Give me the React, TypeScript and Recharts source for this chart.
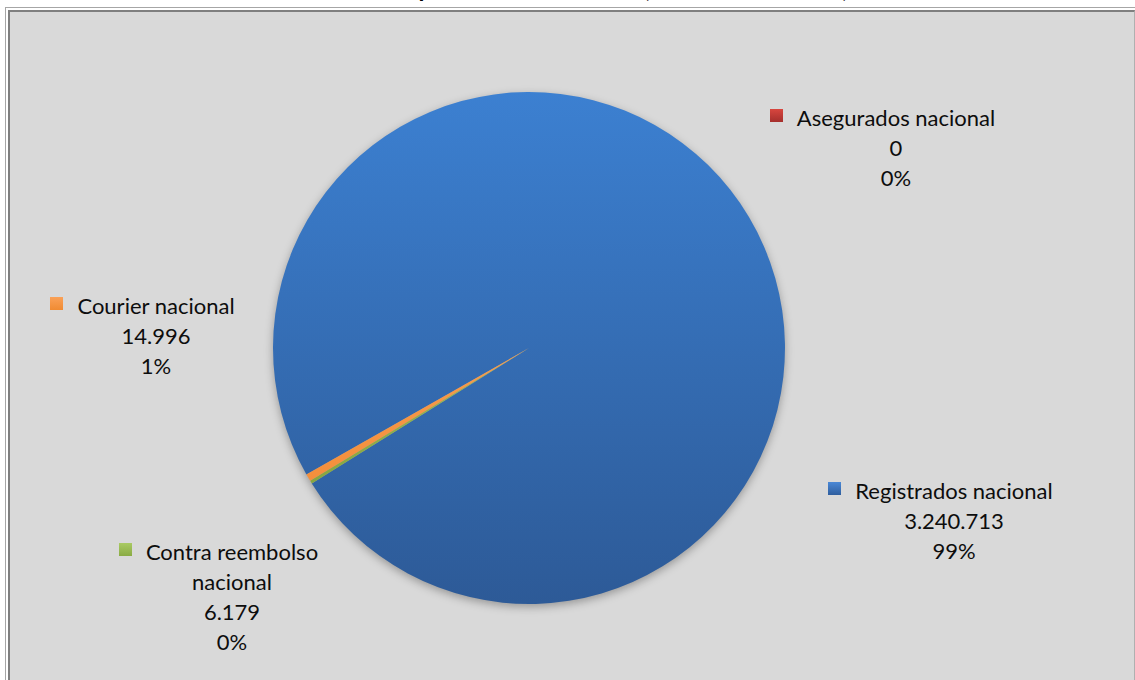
import { PieChart, Pie, Cell } from 'recharts'

const categories = ['Registrados nacional', 'Asegurados nacional', 'Contra reembolso nacional', 'Courier nacional']
const values = [3240713, 0, 6179, 14996]
const percentLabels = ['99%', '0%', '0%', '1%']
const valueLabels = ['3.240.713', '0', '6.179', '14.996']

const TITLE = 'Tráfico por servicio nacional (Enero - Diciembre)'

const sliceFills = ['url(#gBlue)', '#c0504d', 'url(#gGreen)', 'url(#gOrange)']
const markerFills = [
    'linear-gradient(#4a88d6, #2f5e9e)',
    'linear-gradient(#d8463f, #a52f2c)',
    'linear-gradient(#a9ca63, #8aab44)',
    'linear-gradient(#faa158, #f08b32)',
]

// label blocks are placed by hand in the source chart
const labelLayout = [
    { cx: 954, top: 476, lines: 1 },
    { cx: 896, top: 103, lines: 1 },
    { cx: 232, top: 537, lines: 2 },
    { cx: 156, top: 291, lines: 1 },
]

const data = categories.map((name, i) => ({ name, value: values[i] }))

const FONT = 'Lato, "Open Sans", sans-serif'

function splitName(name: string, lines: number) {
    if (lines === 1) return [name]
    const cut = name.lastIndexOf(' ')
    return [name.slice(0, cut), name.slice(cut + 1)]
}

export default function App() {
    return (
        <div style={{ position: 'fixed', left: 0, top: 0, width: 1135, height: 680, background: '#fff', overflow: 'hidden' }}>
            <div
                style={{
                    position: 'absolute', left: 0, right: 0, top: -26, textAlign: 'center',
                    fontFamily: FONT, fontWeight: 700, fontSize: 24, lineHeight: '28px', color: '#000',
                    paddingLeft: 54,
                }}
            >
                {TITLE}
            </div>
            <div style={{ position: 'absolute', left: 5, top: 7, width: 1200, height: 800, borderTop: '1px solid #a6a6a6', borderLeft: '1px solid #a6a6a6' }} />
            <div
                style={{
                    position: 'absolute', left: 8, top: 10, width: 1124, height: 800,
                    borderTop: '2px solid #7f7f7f', borderLeft: '2px solid #7f7f7f', borderRight: '1px solid #b0b0b0',
                    background: '#d9d9d9',
                }}
            />
            <div style={{ position: 'absolute', left: 0, top: 0, filter: 'drop-shadow(0px 3px 4px rgba(0,0,0,0.3))' }}>
                <PieChart width={1135} height={680}>
                    <defs>
                        <linearGradient id="gBlue" x1="0" y1="0" x2="0" y2="1">
                            <stop offset="0%" stopColor="#3c80d1" />
                            <stop offset="100%" stopColor="#2d5a97" />
                        </linearGradient>
                        <linearGradient id="gOrange" x1="0" y1="0" x2="0" y2="1">
                            <stop offset="0%" stopColor="#f99c4c" />
                            <stop offset="100%" stopColor="#f38f3c" />
                        </linearGradient>
                        <linearGradient id="gGreen" x1="0" y1="0" x2="0" y2="1">
                            <stop offset="0%" stopColor="#9bbb59" />
                            <stop offset="100%" stopColor="#86a640" />
                        </linearGradient>
                    </defs>
                    <Pie
                        data={data}
                        dataKey="value"
                        nameKey="name"
                        cx={524}
                        cy={343}
                        outerRadius={256}
                        startAngle={-150.4}
                        endAngle={-510.4}
                        stroke="none"
                        isAnimationActive={false}
                        label={false}
                        labelLine={false}
                    >
                        {data.map((_, i) => (
                            <Cell key={`cell-${i}`} fill={sliceFills[i]} />
                        ))}
                    </Pie>
                </PieChart>
            </div>
            {categories.map((name, i) => {
                const lay = labelLayout[i]
                const nameLines = splitName(name, lay.lines)
                return (
                    <div
                        key={name}
                        style={{
                            position: 'absolute', left: lay.cx - 200, top: lay.top, width: 400,
                            textAlign: 'center', fontFamily: FONT, fontSize: 22, lineHeight: '30px', color: '#0d0d0d',
                        }}
                    >
                        {nameLines.map((ln, k) => (
                            <div key={k}>
                                <span style={{ position: 'relative' }}>
                                    {k === 0 && (
                                        <span
                                            style={{
                                                position: 'absolute', left: -27, top: 5, width: 13, height: 13,
                                                background: markerFills[i],
                                            }}
                                        />
                                    )}
                                    {ln}
                                </span>
                            </div>
                        ))}
                        <div>{valueLabels[i]}</div>
                        <div>{percentLabels[i]}</div>
                    </div>
                )
            })}
        </div>
    )
}
